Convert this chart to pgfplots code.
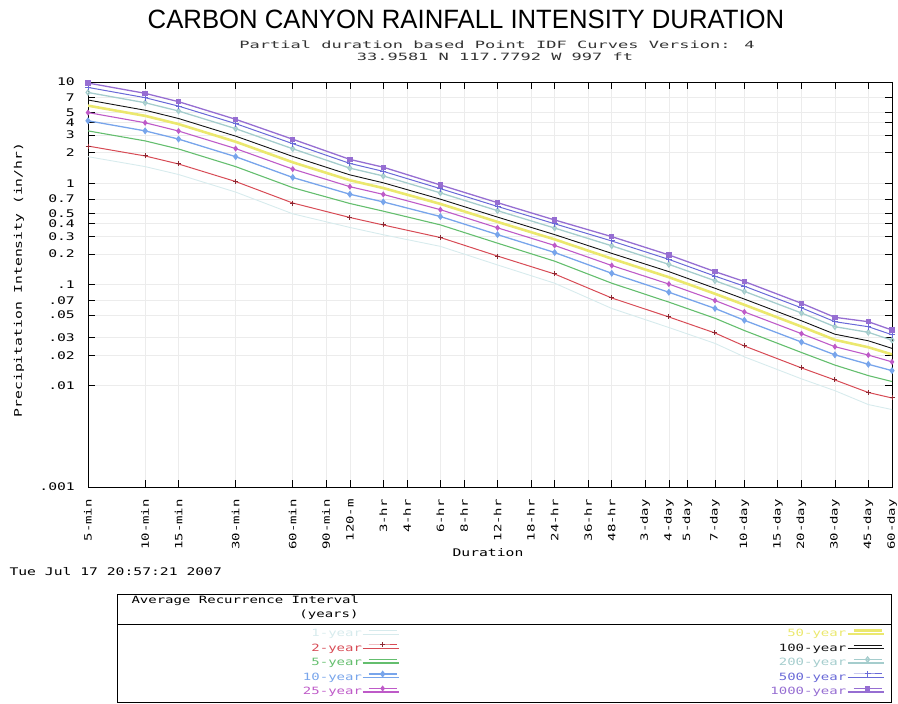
\documentclass[border=0pt]{standalone}
\usepackage{fontspec}
\setmainfont{Liberation Sans}
\newfontfamily\titlefont[FakeStretch=0.97]{Liberation Sans}
\newfontfamily\dotfont[FakeStretch=1.4]{DejaVu Sans Mono}
\newfontfamily\widefont[FakeStretch=1.7]{DejaVu Sans Mono}
\usepackage{pgfplots}
\pgfplotsset{compat=1.18}
\usepackage{pgfplotstable}

\definecolor{c1}{RGB}{215,235,237}
\definecolor{c2}{RGB}{215,75,85}
\definecolor{c2m}{RGB}{140,40,50}
\definecolor{c5}{RGB}{100,190,110}
\definecolor{c10}{RGB}{120,165,235}
\definecolor{c25}{RGB}{190,90,200}
\definecolor{c50}{RGB}{235,232,110}
\definecolor{c100}{RGB}{20,20,20}
\definecolor{c200}{RGB}{165,205,205}
\definecolor{c500}{RGB}{105,105,215}
\definecolor{c1000}{RGB}{150,110,210}

\pgfplotstableread{
dur y1000 y500 y200 y100 y50 y25 y10 y5 y2 y1
5 9.77 8.84 7.88 6.64 5.84 4.99 4.14 3.29 2.33 1.83
10 7.73 7.00 6.24 5.26 4.63 3.96 3.29 2.62 1.86 1.46
15 6.39 5.78 5.17 4.36 3.84 3.28 2.73 2.18 1.55 1.22
30 4.28 3.88 3.46 2.92 2.57 2.20 1.83 1.46 1.04 0.818
60 2.72 2.46 2.19 1.84 1.61 1.38 1.14 0.904 0.638 0.499
120 1.72 1.57 1.41 1.21 1.07 0.925 0.779 0.631 0.459 0.366
180 1.44 1.31 1.18 1.01 0.896 0.776 0.654 0.530 0.387 0.310
360 0.961 0.884 0.803 0.696 0.625 0.548 0.469 0.388 0.291 0.238
720 0.643 0.590 0.536 0.463 0.415 0.363 0.311 0.256 0.191 0.156
1440 0.434 0.398 0.361 0.311 0.279 0.243 0.207 0.170 0.127 0.103
2880 0.297 0.269 0.241 0.203 0.180 0.154 0.129 0.103 0.0736 0.0580
5760 0.196 0.177 0.158 0.134 0.118 0.101 0.0839 0.0670 0.0478 0.0376
10080 0.134 0.121 0.109 0.0918 0.0810 0.0695 0.0580 0.0464 0.0332 0.0262
14400 0.107 0.0962 0.0856 0.0718 0.0630 0.0536 0.0443 0.0351 0.0247 0.0193
28800 0.0652 0.0588 0.0523 0.0438 0.0384 0.0327 0.0270 0.0213 0.0150 0.0117
43200 0.0474 0.0429 0.0383 0.0323 0.0284 0.0243 0.0202 0.0160 0.0114 0.00894
64800 0.0429 0.0383 0.0337 0.0278 0.0240 0.0201 0.0163 0.0126 0.00858 0.00652
86400 0.0355 0.0319 0.0282 0.0234 0.0204 0.0172 0.0141 0.0110 0.00757 0.00582
}\data

\begin{document}
\begin{tikzpicture}
\path[use as bounding box] (0pt,0pt) rectangle (898pt,704pt);

% titles
\node[anchor=base, font=\titlefont\fontsize{26.5}{28}\selectfont] at (466pt,675pt) {CARBON CANYON RAINFALL INTENSITY DURATION};
\node[anchor=base, text=black!80, font=\widefont\fontsize{10}{12}\selectfont] at (497pt,655pt) {Partial duration based Point IDF Curves Version: 4};
\node[anchor=base, text=black!80, font=\widefont\fontsize{10}{12}\selectfont] at (495pt,643pt) {33.9581 N 117.7792 W 997 ft};

\begin{axis}[
  at={(88pt,217pt)}, anchor=south west, scale only axis,
  width=804pt, height=405pt,
  xmode=log, ymode=log,
  xmin=5, xmax=86400, ymin=0.001, ymax=10,
  xtick={5,10,15,30,60,90,120,180,240,360,480,720,1080,1440,2160,2880,4320,5760,7200,10080,14400,21600,28800,43200,64800,86400},
  xticklabels={5-min,10-min,15-min,30-min,60-min,90-min,120-m,3-hr,4-hr,6-hr,8-hr,12-hr,18-hr,24-hr,36-hr,48-hr,3-day,4-day,5-day,7-day,10-day,15-day,20-day,30-day,45-day,60-day},
  ytick={0.001,0.01,0.02,0.03,0.05,0.07,0.1,0.2,0.3,0.4,0.5,0.7,1,2,3,4,5,7,10},
  yticklabels={.001,.01,.02,.03,.05,.07,.1,0.2,0.3,0.4,0.5,0.7,1,2,3,4,5,7,10},
  tick align=inside, major tick length=7pt, minor tick length=0pt,
  grid=major, grid style={gray!15, line width=0.6pt},
  axis line style={line width=0.9pt},
  every tick/.style={black, line width=0.7pt},
  xticklabel style={font=\dotfont\fontsize{10}{12}\selectfont, rotate=90, anchor=east, inner xsep=12pt, inner ysep=0pt},
  yticklabel style={font=\dotfont\fontsize{10.5}{12}\selectfont, anchor=east, inner xsep=13pt, inner ysep=0pt},
  legend columns=5, transpose legend, legend plot pos=right, legend cell align=right,
  legend style={at={(0.04975,-0.345)}, anchor=north west, draw=none, fill=none,
    inner sep=0pt, outer sep=0pt, row sep=0pt, column sep=0pt,
    nodes={inner sep=0pt, minimum height=14.5pt, font=\dotfont\fontsize{10}{12}\selectfont}},
  legend image code/.code={\path (0pt,0pt) -- (36pt,0pt);
    \draw[mark repeat=2, mark phase=2, #1] plot coordinates {(6pt,3.5pt) (20pt,3.5pt) (34pt,3.5pt)};},
  legend entries={
    \makebox[234pt][r]{\textcolor{c1}{1-year}},
    \makebox[234pt][r]{\textcolor{c2}{2-year}},
    \makebox[234pt][r]{\textcolor{c5}{5-year}},
    \makebox[234pt][r]{\textcolor{c10}{10-year}},
    \makebox[234pt][r]{\textcolor{c25}{25-year}},
    \makebox[447pt][r]{\textcolor{c50}{50-year}},
    \makebox[447pt][r]{\textcolor{c100}{100-year}},
    \makebox[447pt][r]{\textcolor{c200}{200-year}},
    \makebox[447pt][r]{\textcolor{c500}{500-year}},
    \makebox[447pt][r]{\textcolor{c1000}{1000-year}}},
]
\addplot[c1, line width=0.9pt] table[x=dur,y=y1]{\data};
\addplot[c2, line width=1pt, mark=+, mark size=2.5pt, mark options={c2m, line width=1pt}] table[x=dur,y=y2]{\data};
\addplot[c5, line width=1.1pt] table[x=dur,y=y5]{\data};
\addplot[c10, line width=1.3pt, mark=diamond*, mark size=2.5pt] table[x=dur,y=y10]{\data};
\addplot[c25, line width=1.1pt, mark=diamond*, mark size=2.2pt] table[x=dur,y=y25]{\data};
\addplot[c50, line width=2.6pt] table[x=dur,y=y50]{\data};
\addplot[c100, line width=0.9pt] table[x=dur,y=y100]{\data};
\addplot[c200, line width=1.3pt, mark=diamond, mark size=2.5pt] table[x=dur,y=y200]{\data};
\addplot[c500, line width=1pt, mark=+, mark size=3pt] table[x=dur,y=y500]{\data};
\addplot[c1000, line width=1.3pt, mark=square*, mark size=2pt] table[x=dur,y=y1000]{\data};
\end{axis}

% axis labels
\node[font=\dotfont\fontsize{10.5}{12}\selectfont] at (488pt,151pt) {Duration};
\node[rotate=90, font=\dotfont\fontsize{10.5}{12}\selectfont] at (19pt,424pt) {Precipitation Intensity (in/hr)};
\node[anchor=west, font=\dotfont\fontsize{10.5}{12}\selectfont] at (6pt,132pt) {Tue Jul 17 20:57:21 2007};

% legend frame
\draw[line width=0.8pt] (117pt,2pt) rectangle (891pt,110pt);
\draw[line width=0.8pt] (117pt,80pt) -- (891pt,80pt);
\node[anchor=west, font=\dotfont\fontsize{10}{12}\selectfont] at (128pt,103pt) {Average Recurrence Interval};
\node[anchor=east, font=\dotfont\fontsize{10}{12}\selectfont] at (362pt,89pt) {(years)};
\end{tikzpicture}
\end{document}
